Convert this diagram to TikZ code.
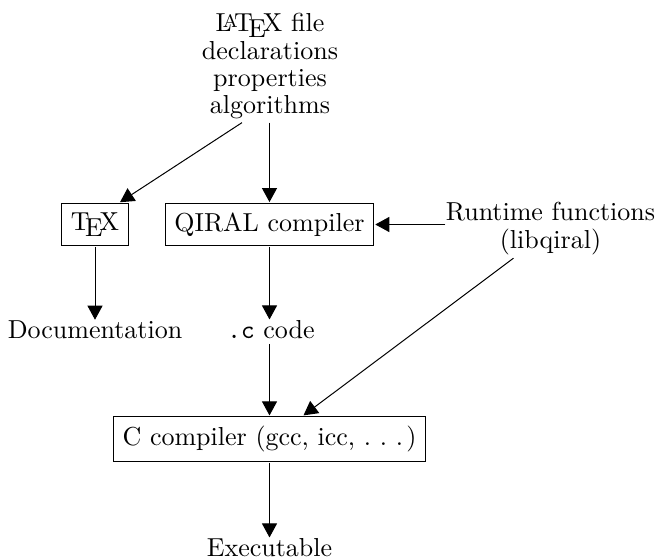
\documentclass[tikz,border=0pt]{standalone}
\usetikzlibrary{arrows.meta}
\begin{document}
\begin{tikzpicture}[x=1pt,y=-1pt,
  font=\fontsize{10}{10.5}\selectfont,
  box/.style={draw, scale=2.6, line width=1pt, inner xsep=3.65pt, inner ysep=3.58pt},
  lbl/.style={scale=2.6, inner sep=0pt, align=center},
  arr/.style={line width=1pt, -{Triangle[length=14pt,width=15pt]}}]
\useasboundingbox (0,0) rectangle (662,560);
\node[lbl, anchor=north] (src) at (270,13) {\LaTeX\ file\\declarations\\properties\\algorithms};
\node[box] (tex) at (95,224.5) {\TeX};
\node[box] (qc) at (269.5,224.5) {QIRAL compiler};
\node[lbl, anchor=north] (rt) at (550.5,202) {Runtime functions\\(libqiral)};
\node[lbl, anchor=base] (doc) at (95,338) {Documentation};
\node[lbl, anchor=base] (cc) at (271,338) {\texttt{.c} code};
\node[box] (ccomp) at (269.5,439) {C compiler (gcc, icc, .\kern.34em.\kern.34em.\kern.12em)};
\node[lbl, anchor=base] (exe) at (269.5,556) {Executable};
\draw[arr] ([xshift=-28pt,yshift=-3pt]src.south) -- ([xshift=-10pt]tex.north east);
\draw[arr] ([yshift=-3pt]src.south -| qc.north) -- (qc.north);
\draw[arr] (tex.south) -- (doc.north);
\draw[arr] (qc.south) -- (qc.south |- cc.north);
\draw[arr] (rt.west |- qc.east) -- (qc.east);
\draw[arr] ([xshift=-37pt,yshift=-3pt]rt.south) -- ([xshift=34pt]ccomp.north);
\draw[arr] ([yshift=-5pt]cc.south -| ccomp.north) -- (ccomp.north);
\draw[arr] (ccomp.south) -- (exe.north);
\end{tikzpicture}
\end{document}
